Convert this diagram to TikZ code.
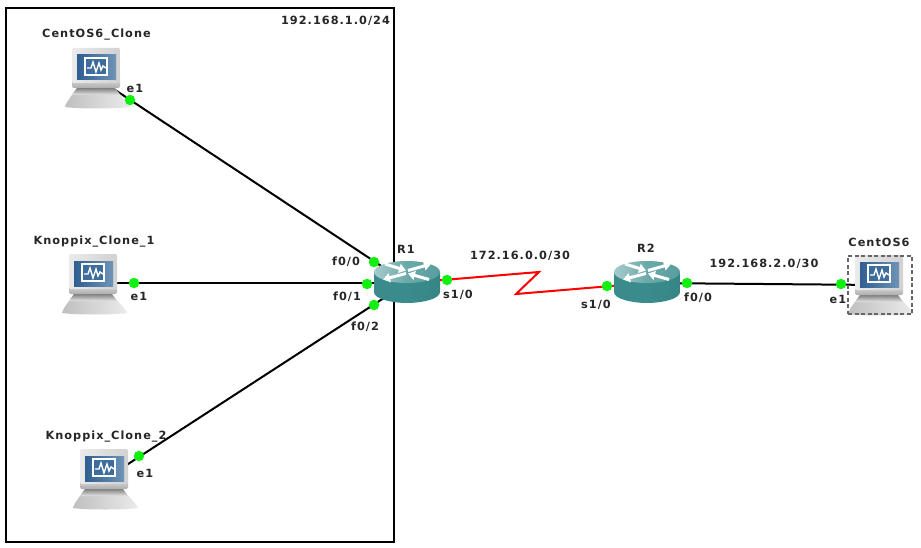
\documentclass[tikz,border=0pt]{standalone}
\usepackage{fontspec}
\usetikzlibrary{arrows.meta}
\setmainfont{DejaVu Sans}
\newfontfamily\lblfont{DejaVu Sans Bold}[LetterSpace=9]
\definecolor{tealbody}{HTML}{3A8C8C}
\definecolor{tealdark}{HTML}{358585}
\definecolor{teallight}{HTML}{A6CBCB}
\definecolor{portgreen}{HTML}{12F012}
\definecolor{scrA}{HTML}{2F5F92}
\definecolor{scrB}{HTML}{6E93B6}
\definecolor{scrC}{HTML}{3D6D9C}
\tikzset{
  anchorbox/.style={inner sep=0pt,minimum size=2pt,outer sep=0pt},
  port/.style={circle,fill=portgreen,inner sep=0pt,minimum size=10.5pt},
  lbl/.style={inner sep=0pt,font=\lblfont\fontsize{11.3}{13}\selectfont,text=black!85},
  link/.style={line width=2pt,black},
  seriallink/.style={line width=2pt,red},
  rarrow/.style={white,line width=3pt,-{Triangle[length=7pt,width=9pt]}},
  pc/.pic={
    \shade[left color=black!25,right color=black!8] (-32,29) .. controls (-31,24) and (-24,16) .. (-20,10) -- (18,10) .. controls (22,16) and (31,24) .. (33,29) .. controls (20,31) and (-20,31) .. (-32,29) -- cycle;
    \shade[top color=black!50,bottom color=black!10] (-20,10) -- (18,10) -- (23,17) -- (-25,17) -- cycle;
    \shade[top color=black!5,bottom color=black!32,rounded corners=2pt] (-25,-4) rectangle (23,10);
    \shade[left color=black!8,right color=black!18,rounded corners=2pt] (-25,-30) rectangle (23,5);
    \shade[left color=scrA,right color=scrB] (-20,-23) rectangle (19,2);
    \draw[white,line width=1.2pt,fill=scrC] (-12,-20) rectangle (10,-3);
    \draw[white,line width=1.4pt] (-10,-10) -- (-6,-10) -- (-4,-16) -- (-1,-6) -- (2,-15) -- (4,-8) -- (6,-12) -- (9,-10);
  },
  routerpic/.pic={
    \shade[left color=tealbody,right color=tealdark,middle color=tealbody] (-33,-11) -- (-33,9) .. controls (-33,16) and (-15,20) .. (0,20) .. controls (15,20) and (33,16) .. (33,9) -- (33,-11) -- cycle;
    \shade[left color=teallight,right color=tealbody!85!white,middle color=tealbody!75!white] (0,-11) ellipse (33 and 11);
    \draw[rarrow] (-22,-19) -- (-1,-12.5);
    \draw[rarrow] (1,-12.5) -- (24,-19);
    \draw[rarrow] (-1,-9.5) -- (-24,-3.5);
    \draw[rarrow] (22,-3.5) -- (1,-9.5);
  }
}
\begin{document}
\begin{tikzpicture}[x=1pt,y=-1pt]
\useasboundingbox (0,0) rectangle (921,548);
\fill[white] (0,0) rectangle (921,548);
\node[draw=black,line width=1.7pt,inner sep=0pt,outer sep=0pt,minimum width=388pt,minimum height=534pt,anchor=north west] (net) at (6,8) {};
% device anchors
\node[anchorbox] (pc1) at (97,78) {};
\node[anchorbox] (pc2) at (94,283) {};
\node[anchorbox] (pc3) at (105,479) {};
\node[anchorbox] (pc4) at (880,285) {};
\node[anchorbox] (r1) at (407,283) {};
\node[anchorbox] (r2) at (647,283) {};
\coordinate (zigA) at (539,272);
\coordinate (zigB) at (516,294);
% connectors
\draw[link] (pc1.center) -- (r1.center);
\draw[link] (pc2.center) -- (r1.center);
\draw[link] (pc3.center) -- (r1.center);
\draw[link] (r2.center) -- (pc4.center);
\draw[seriallink] (r1.center) -- (zigA) -- (zigB) -- (r2.center);
% devices
\pic at (pc1) {pc};
\pic at (94,284) {pc};
\pic at (105,479) {pc};
\pic at (880,285) {pc};
\pic at (r1) {routerpic};
\pic at (r2) {routerpic};
\node[draw=black!60,dash pattern=on 4pt off 2.5pt,line width=1.5pt,inner sep=0pt,outer sep=0pt,minimum width=64pt,minimum height=58pt,anchor=north west] (sel) at (848,256) {};
% ports
\node[port] (p1) at (130,100) {};
\node[port] (p2) at (134,283) {};
\node[port] (p3) at (139,456) {};
\node[port] (p4) at (841,284) {};
\node[port] (r1a) at (374,262) {};
\node[port] (r1b) at (367,284) {};
\node[port] (r1c) at (374,305) {};
\node[port] (r1s) at (447,280) {};
\node[port] (r2s) at (607,286) {};
\node[port] (r2f) at (687,283) {};
% labels
\node[lbl] (t1) at (96.5,35) {CentOS6\_Clone};
\node[lbl] (t2) at (94,242) {Knoppix\_Clone\_1};
\node[lbl] (t3) at (106,437) {Knoppix\_Clone\_2};
\node[lbl] (t4) at (879,242) {CentOS6};
\node[lbl] (t5) at (406,249) {R1};
\node[lbl] (t6) at (646,248) {R2};
\node[lbl] (t7) at (335.5,21) {192.168.1.0/24};
\node[lbl] (t8) at (520,256) {172.16.0.0/30};
\node[lbl] (t9) at (764,264) {192.168.2.0/30};
\node[lbl] (e1) at (135,88) {e1};
\node[lbl] (e2) at (139,296) {e1};
\node[lbl] (e3) at (145,473) {e1};
\node[lbl] (e4) at (838,299) {e1};
\node[lbl] (f1) at (346,262) {f0/0};
\node[lbl] (f2) at (347,297) {f0/1};
\node[lbl] (f3) at (365,327) {f0/2};
\node[lbl] (s1) at (458,295) {s1/0};
\node[lbl] (s2) at (596,305) {s1/0};
\node[lbl] (f4) at (698,298) {f0/0};
\end{tikzpicture}
\end{document}
